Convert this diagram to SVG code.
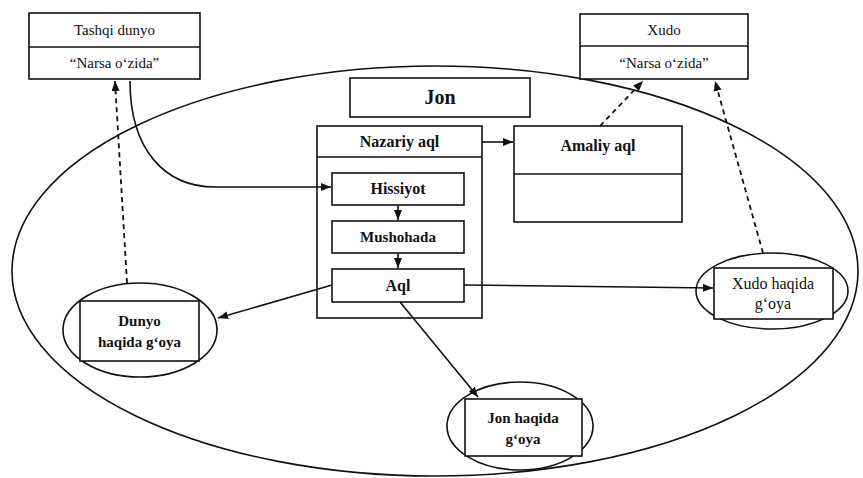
<svg xmlns="http://www.w3.org/2000/svg" width="863" height="478" viewBox="0 0 863 478">
<style>
.bx{fill:#fff;stroke:#111;stroke-width:1.6}
.ln{fill:none;stroke:#111;stroke-width:1.6}
.ds{fill:none;stroke:#111;stroke-width:1.8;stroke-dasharray:5 4}
.t{font-family:"Liberation Serif","Times New Roman",serif;fill:#111;text-anchor:middle}
.r15{font-size:15px}
.b16{font-size:16px;font-weight:bold}
</style>
<defs>
<marker id="ah" viewBox="0 0 10 8" refX="10" refY="4" markerWidth="10" markerHeight="8" markerUnits="userSpaceOnUse" orient="auto">
<path d="M0,0 L10,4 L0,8 z" fill="#111"/>
</marker>
</defs>
<rect width="863" height="478" fill="#fff"/>
<g id="soul-boundary">
<ellipse cx="435" cy="271" rx="423" ry="205" class="ln"/>
</g>
<g id="tashqi-dunyo">
<rect x="29" y="13" width="171" height="66" class="bx"/>
<line x1="29" y1="47" x2="200" y2="47" class="ln"/>
<text x="114.5" y="35" class="t r15">Tashqi dunyo</text>
<text x="114.5" y="68" class="t r15">“Narsa o‘zida”</text>
</g>
<g id="xudo">
<rect x="580" y="14" width="168" height="65" class="bx"/>
<line x1="580" y1="46" x2="748" y2="46" class="ln"/>
<text x="664" y="35" class="t r15">Xudo</text>
<text x="664" y="68" class="t r15">“Narsa o‘zida”</text>
</g>
<g id="jon">
<rect x="350" y="78" width="180" height="39" class="bx"/>
<text x="440" y="104" class="t" font-size="20" font-weight="bold">Jon</text>
</g>
<g id="nazariy-aql">
<rect x="317" y="126" width="165" height="192" class="bx"/>
<line x1="317" y1="157" x2="482" y2="157" class="ln"/>
<text x="399.5" y="147" class="t b16">Nazariy aql</text>
</g>
<g id="hissiyot">
<rect x="332" y="173" width="132" height="32" class="bx"/>
<text x="398" y="194" class="t b16">Hissiyot</text>
</g>
<g id="mushohada">
<rect x="332" y="221" width="132" height="32" class="bx"/>
<text x="398" y="242" class="t" font-size="15" font-weight="bold">Mushohada</text>
</g>
<g id="aql">
<rect x="332" y="269" width="132" height="33" class="bx"/>
<text x="398" y="291" class="t b16">Aql</text>
</g>
<g id="amaliy-aql">
<rect x="514" y="126" width="168" height="96" class="bx"/>
<line x1="514" y1="174" x2="682" y2="174" class="ln"/>
<text x="598" y="151" class="t b16">Amaliy aql</text>
</g>
<g id="dunyo-haqida-goya">
<ellipse cx="140" cy="330" rx="77" ry="47" class="bx"/>
<rect x="80" y="301" width="119" height="60" class="bx"/>
<text x="139.5" y="326" class="t" font-size="15" font-weight="bold">Dunyo</text>
<text x="139.5" y="347" class="t" font-size="15" font-weight="bold">haqida g‘oya</text>
</g>
<g id="jon-haqida-goya">
<ellipse cx="520" cy="426" rx="73" ry="44" class="bx"/>
<rect x="465" y="399" width="117" height="57" class="bx"/>
<text x="523" y="423" class="t" font-size="15" font-weight="bold">Jon haqida</text>
<text x="523" y="444" class="t" font-size="15" font-weight="bold">g‘oya</text>
</g>
<g id="xudo-haqida-goya">
<ellipse cx="772" cy="291" rx="76" ry="38" class="bx"/>
<rect x="714" y="268" width="119" height="51" class="bx"/>
<text x="773" y="289" class="t" font-size="16">Xudo haqida</text>
<text x="773" y="309" class="t" font-size="16">g‘oya</text>
</g>
<g id="connectors">
<path d="M130,81 C130,150 165,187 215,187 L331,187" class="ln" marker-end="url(#ah)"/>
<line x1="398" y1="205" x2="398" y2="220" class="ln" marker-end="url(#ah)"/>
<line x1="398" y1="253" x2="398" y2="268" class="ln" marker-end="url(#ah)"/>
<line x1="482" y1="142" x2="513" y2="142" class="ln" marker-end="url(#ah)"/>
<line x1="464" y1="285" x2="713" y2="288" class="ln" marker-end="url(#ah)"/>
<line x1="332" y1="285" x2="218" y2="318" class="ln" marker-end="url(#ah)"/>
<line x1="400" y1="302" x2="478" y2="397" class="ln" marker-end="url(#ah)"/>
<line x1="127" y1="283" x2="115" y2="81" class="ds" marker-end="url(#ah)"/>
<line x1="763" y1="253" x2="715" y2="81" class="ds" marker-end="url(#ah)"/>
<line x1="600" y1="126" x2="643" y2="81" class="ds" marker-end="url(#ah)"/>
</g>
</svg>
